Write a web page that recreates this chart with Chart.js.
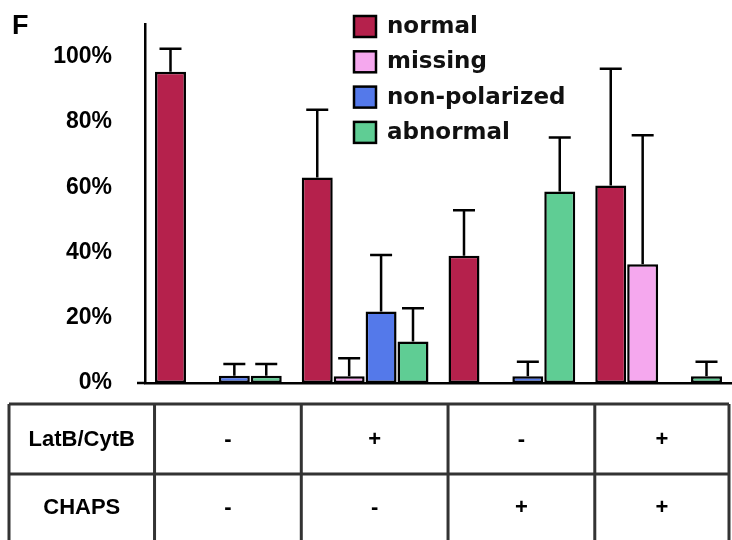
<!DOCTYPE html>
<html>
<head>
<meta charset="utf-8">
<script src="https://cdn.jsdelivr.net/npm/chart.js@4.4.0/dist/chart.umd.min.js"></script>
<style>
  html, body { margin: 0; padding: 0; background: #fff; }
  #wrap { position: relative; width: 732px; height: 540px; }
</style>
</head>
<body>
<div id="wrap"><canvas id="barChart"></canvas></div>
<script>
// one group per treatment column
var groups = ['1', '2', '3', '4'];
var seriesNames = ['normal', 'missing', 'non-polarized', 'abnormal'];
var seriesColors = ['#b5214c', '#f5a8ee', '#5479ea', '#5fcd94'];

// percentages
var normal = [95.4, 63.0, 39.0, 60.5];
var missing = [0, 2.1, 0, 36.4];
var nonPolarized = [2.2, 21.9, 2.1, 0];
var abnormal = [2.2, 12.7, 58.7, 2.1];

// upper error bars
var normalErr = [7.0, 20.7, 13.9, 35.8];
var missingErr = [0, 5.5, 0, 39.5];
var nonPolarizedErr = [3.6, 17.3, 4.4, 0];
var abnormalErr = [3.6, 10.2, 16.5, 4.4];

var yTicks = [0, 20, 40, 60, 80, 100];

// treatment table under the chart
var rowLabels = ['LatB/CytB', 'CHAPS'];
var latB = ['-', '+', '-', '+'];
var chaps = ['-', '-', '+', '+'];

var boldFont = "bold 22px 'Liberation Sans', Arial, sans-serif";

// error bars, legend, table and panel letter
var extras = {
    id: 'extras',
    afterDatasetsDraw: function(chart) {
        var ctx = chart.ctx;
        var y = chart.scales.y;
        ctx.save();
        ctx.strokeStyle = '#000';
        ctx.lineWidth = 2.5;
        chart.data.datasets.forEach(function(ds, di) {
            var meta = chart.getDatasetMeta(di);
            meta.data.forEach(function(bar, i) {
                var e = ds.errors[i];
                if (!e) return;
                var y0 = y.getPixelForValue(ds.data[i]);
                var y1 = y.getPixelForValue(ds.data[i] + e);
                ctx.beginPath();
                ctx.moveTo(bar.x, y0);
                ctx.lineTo(bar.x, y1);
                ctx.moveTo(bar.x - 11, y1);
                ctx.lineTo(bar.x + 11, y1);
                ctx.stroke();
            });
        });
        ctx.restore();
    },
    afterDraw: function(chart) {
        var ctx = chart.ctx;
        var area = chart.chartArea;
        var x = chart.scales.x;
        var y = chart.scales.y;
        ctx.save();

        // little stub of the baseline left of the axis
        ctx.strokeStyle = '#000';
        ctx.lineWidth = 2.5;
        ctx.beginPath();
        ctx.moveTo(137, y.getPixelForValue(0));
        ctx.lineTo(area.left, y.getPixelForValue(0));
        ctx.stroke();

        // panel letter
        ctx.fillStyle = '#000';
        ctx.font = "bold 27px 'Liberation Sans', Arial, sans-serif";
        ctx.textAlign = 'left';
        ctx.textBaseline = 'alphabetic';
        ctx.fillText('F', 12, 34);

        // legend
        var lx = 354, ly = 16, step = 35.3;
        ctx.font = "bold 23px 'DejaVu Sans', sans-serif";
        ctx.textBaseline = 'middle';
        chart.data.datasets.forEach(function(ds, i) {
            var top = ly + i * step;
            ctx.fillStyle = ds.backgroundColor;
            ctx.fillRect(lx, top, 22, 21);
            ctx.strokeStyle = '#000';
            ctx.lineWidth = 2.5;
            ctx.strokeRect(lx, top, 22, 21);
            ctx.fillStyle = '#111';
            ctx.fillText(ds.label, 387, top + 11);
        });

        // table: column edges follow the bar groups
        var meta = chart.getDatasetMeta(0);
        var half = (meta.data[0].width / 0.97) * 2;
        var cols = [9];
        for (var i = 0; i < groups.length; i++) {
            cols.push(x.getPixelForValue(i) - half);
        }
        cols.push(area.right - 3);
        var rows = [404, 474, 545];
        ctx.strokeStyle = '#333';
        ctx.lineWidth = 3;
        ctx.beginPath();
        rows.forEach(function(r) {
            ctx.moveTo(cols[0], r);
            ctx.lineTo(cols[cols.length - 1], r);
        });
        cols.forEach(function(c) {
            ctx.moveTo(c, rows[0]);
            ctx.lineTo(c, rows[2]);
        });
        ctx.stroke();

        ctx.fillStyle = '#000';
        ctx.font = boldFont;
        ctx.textAlign = 'center';
        ctx.textBaseline = 'middle';
        var cells = [latB, chaps];
        var rowMid = [440, 508];
        rowLabels.forEach(function(lab, r) {
            ctx.fillText(lab, (cols[0] + cols[1]) / 2, rowMid[r]);
            cells[r].forEach(function(v, i) {
                ctx.fillText(v, (cols[i + 1] + cols[i + 2]) / 2, rowMid[r]);
            });
        });
        ctx.restore();
    }
};

function createChart() {
    var ctx = document.getElementById('barChart').getContext('2d');
    var values = [normal, missing, nonPolarized, abnormal];
    var errs = [normalErr, missingErr, nonPolarizedErr, abnormalErr];

    var datasets = seriesNames.map(function(name, i) {
        return {
            label: name,
            data: values[i],
            errors: errs[i],
            backgroundColor: seriesColors[i],
            borderColor: '#000',
            borderWidth: 2.5,
            borderSkipped: false,
            barPercentage: 0.97,
            categoryPercentage: 0.87
        };
    });

    new Chart(ctx, {
        type: 'bar',
        data: { labels: groups, datasets: datasets },
        options: {
            responsive: true,
            maintainAspectRatio: false,
            animation: false,
            layout: { padding: { top: 24, left: 0, right: 0, bottom: 0 } },
            plugins: {
                legend: { display: false },
                tooltip: { enabled: false }
            },
            scales: {
                x: {
                    ticks: { display: false },
                    grid: { display: false },
                    border: { color: '#000', width: 2.5 },
                    afterFit: function(scale) {
                        scale.height = 157;
                        scale.paddingLeft = 0;
                        scale.paddingRight = 0;
                    }
                },
                y: {
                    min: 0,
                    max: 110,
                    grid: { display: false, drawTicks: false },
                    border: { color: '#000', width: 2.5 },
                    ticks: {
                        stepSize: 20,
                        padding: 33,
                        color: '#000',
                        font: { family: "'Liberation Sans', Arial, sans-serif", size: 23, weight: 'bold' },
                        callback: function(v) { return v + '%'; }
                    },
                    afterBuildTicks: function(scale) {
                        scale.ticks = yTicks.map(function(v) { return { value: v }; });
                    },
                    afterFit: function(scale) {
                        scale.width = 145;
                        scale.paddingTop = 0;
                        scale.paddingBottom = 0;
                    }
                }
            }
        },
        plugins: [extras]
    });
}

document.addEventListener("DOMContentLoaded", createChart);
</script>
</body>
</html>
